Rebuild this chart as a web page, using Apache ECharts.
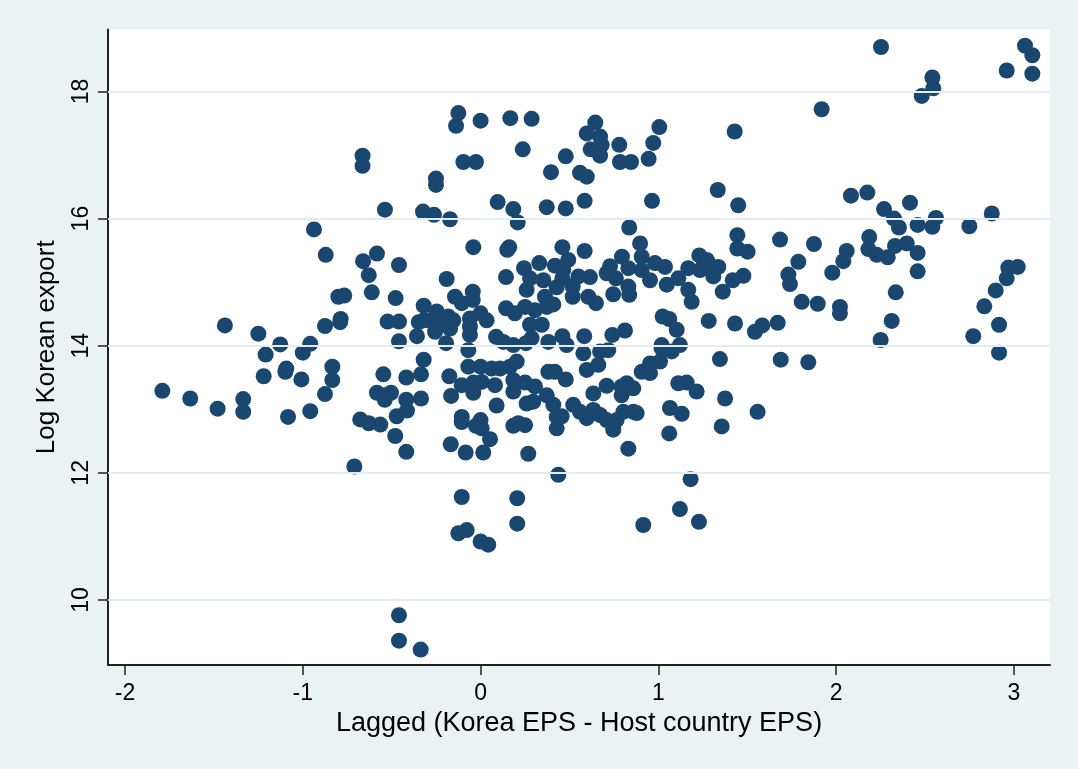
<!DOCTYPE html>
<html><head><meta charset="utf-8">
<script src="https://cdn.jsdelivr.net/npm/echarts@6/dist/echarts.min.js"></script>
<style>html,body{margin:0;padding:0;background:#EAF2F3}#c{width:1078px;height:769px}</style>
</head><body><div id="c"></div>
<script>
const xTicks = [-2, -1, 0, 1, 2, 3];
const yTicks = [10, 12, 14, 16, 18];
const xTitle = 'Lagged (Korea EPS - Host country EPS)';
const yTitle = 'Log Korean export';

const pointsLeft = [
 [-0.664,16.99],[-0.664,16.83],[-0.538,16.14],[-0.324,16.11],[-0.937,15.83],[-0.871,15.43],[-0.661,15.33],[-0.583,15.45],
 [-0.459,15.27],[-0.629,15.11],[-0.612,14.84],[-0.478,14.75],[-0.80,14.77],[-0.767,14.79],[-1.438,14.32],[-1.25,14.19],
 [-1.127,14.02],[-0.958,14.03],[-1.0,13.89],[-0.875,14.31],[-0.79,14.37],[-0.787,14.42],[-0.523,14.38],[-0.459,14.38],
 [-0.459,14.07],[-0.358,14.15],[-0.348,14.37],[-0.32,14.40],[-0.32,14.63],[-1.79,13.29],[-1.633,13.17],[-1.479,13.01],
 [-1.335,13.16],[-1.335,12.96],[-1.209,13.86],[-1.22,13.52],[-1.098,13.59],[-1.093,13.64],[-1.008,13.47],[-0.834,13.67],
 [-0.834,13.46],[-0.875,13.24],[-1.083,12.88],[-0.958,12.97],[-0.677,12.84],[-0.629,12.78],[-0.564,12.76],[-0.71,12.10],
 [-0.547,13.55],[-0.583,13.26],[-0.539,13.22],[-0.504,13.26],[-0.539,13.15],[-0.418,13.50],[-0.418,13.15],[-0.414,12.98],
 [-0.472,12.89],[-0.48,12.58],[-0.418,12.33],[-0.32,13.78],[-0.335,13.55],[-0.335,13.17],[-0.459,9.76],[-0.459,9.36],
 [-0.337,9.22]
];

const pointsCenterTop = [
 [-0.125,17.66],[-0.138,17.46],[0.0,17.54],[0.167,17.58],[0.287,17.57],[0.237,17.09],[-0.097,16.89],[-0.026,16.89],
 [-0.251,16.63],[-0.251,16.53],[-0.262,16.06],[-0.172,15.99],[0.096,16.26],[0.184,16.15],[0.209,15.94],[0.372,16.18],
 [0.479,16.16],[0.585,16.28],[0.396,16.73],[0.479,16.98],[0.559,16.72],[0.597,16.66],[0.645,17.51],[0.597,17.34],
 [0.672,17.29],[0.681,17.16],[0.619,17.09],[0.672,16.99],[0.78,17.16],[0.784,16.89],[0.846,16.89],[0.945,16.94],
 [0.971,17.19],[1.005,17.44],[1.429,17.37],[1.334,16.45],[0.964,16.28],[1.449,16.21],[0.836,15.86],[-0.041,15.55],
 [0.15,15.51],[0.161,15.55],[0.46,15.55],[0.585,15.49],[0.897,15.61],[0.906,15.40],[0.795,15.40],[1.23,15.42],
 [1.272,15.35],[1.444,15.74],[1.444,15.53],[-0.191,15.05]
];

const pointsCenterBand = [
 [0.143,15.08],[0.244,15.22],[0.33,15.30],[0.278,15.06],[0.353,15.03],[0.259,14.88],[0.418,15.26],[0.465,15.19],
 [0.493,15.35],[0.46,15.06],[0.428,14.92],[0.518,14.77],[0.55,15.09],[0.615,15.08],[0.518,14.93],[0.606,14.77],
 [0.649,14.67],[0.728,15.25],[0.709,15.14],[0.761,15.06],[0.746,14.81],[0.831,15.22],[0.831,14.93],[0.836,14.80],
 [0.906,15.19],[0.953,15.03],[0.981,15.30],[1.037,15.24],[1.047,14.96],[1.112,15.06],[1.168,15.22],[1.168,14.88],
 [1.187,14.69],[1.234,15.19],[1.281,15.30],[1.337,15.24],[1.309,15.09],[1.362,14.85],[1.418,15.03],[1.283,14.39],
 [1.431,14.35],[1.024,14.46],[1.061,14.42],[1.103,14.25],[1.121,14.01],[1.018,14.01],[0.812,14.24],[0.741,14.17],
 [0.583,14.15],[0.46,14.15],[0.484,14.01],[0.381,14.06],[0.287,14.12],[0.255,14.04],[0.344,14.33],[0.278,14.33],
 [0.143,14.59],[0.193,14.51],[0.25,14.61],[0.306,14.56],[0.372,14.61],[0.409,14.65],[0.362,14.77],[0.087,14.14],
 [0.128,14.06],[0.184,14.01],[-0.069,13.93],[-0.044,14.85],[-0.044,14.72],[-0.144,14.77],[-0.106,14.67],[0.0,14.51],
 [0.034,14.40],[-0.06,14.43],[-0.06,14.30],[-0.06,14.17],[-0.247,14.54],[-0.182,14.46],[-0.153,14.40],[-0.232,14.35],
 [-0.256,14.22],[-0.172,14.27],[-0.194,14.04],[-0.285,14.40]
];

const pointsCenterLow = [
 [-0.176,13.52],[-0.166,13.21],[-0.069,13.67],[0.0,13.67],[0.062,13.64],[0.109,13.64],[0.165,13.67],[0.203,13.75],
 [0.184,13.46],[0.184,13.28],[-0.106,13.38],[-0.041,13.42],[0.006,13.43],[-0.041,13.26],[0.081,13.38],[-0.106,12.88],
 [-0.106,12.80],[0.0,12.83],[-0.026,12.74],[0.006,12.70],[0.09,13.06],[0.053,12.53],[-0.168,12.45],[-0.084,12.32],
 [0.015,12.32],[0.268,12.30],[0.184,12.74],[0.212,12.78],[0.25,12.75],[0.25,13.42],[0.306,13.36],[0.372,13.22],
 [0.259,13.09],[0.296,13.12],[0.381,13.59],[0.418,13.59],[0.479,13.47],[0.409,13.07],[0.428,12.88],[0.428,12.70],
 [0.456,12.89],[0.521,13.07],[0.559,12.96],[0.597,12.86],[0.634,12.99],[0.634,13.25],[0.672,12.91],[0.709,12.83],
 [0.746,12.68],[0.765,12.83],[0.803,12.96],[0.859,12.96],[0.878,12.94],[0.597,13.62],[0.662,13.70],[0.672,13.91],
 [0.718,13.93],[0.578,13.88],[0.709,13.37],[0.793,13.36],[0.822,13.41],[0.859,13.33],[0.793,13.22],[0.831,12.38],
 [0.906,13.59],[0.953,13.57],[0.953,13.72],[1.009,13.75],[1.018,13.96],[1.075,13.91],[1.112,13.41],[1.159,13.42],
 [1.215,13.28],[1.065,13.02],[1.131,12.93],[1.061,12.62],[1.346,13.79],[1.375,13.17],[1.356,12.73],[0.437,11.97],
 [-0.106,11.62],[0.206,11.60],[0.206,11.20],[-0.125,11.05],[-0.078,11.10],[0.0,10.92],[0.043,10.87],[0.915,11.18],
 [1.121,11.43],[1.228,11.23],[1.181,11.90]
];

const pointsRight = [
 [2.252,18.70],[3.062,18.72],[3.103,18.57],[2.959,18.33],[3.103,18.28],[2.541,18.22],[2.546,18.05],[2.481,17.93],
 [1.918,17.72],[2.083,16.36],[2.175,16.41],[2.269,16.15],[2.325,16.00],[2.353,15.86],[2.415,16.25],[2.458,15.90],
 [2.561,16.01],[2.541,15.87],[2.749,15.88],[2.875,16.08],[1.684,15.67],[1.875,15.60],[1.502,15.48],[1.787,15.32],
 [1.731,15.12],[1.74,14.97],[1.478,15.10],[2.059,15.49],[2.04,15.33],[1.978,15.15],[2.186,15.71],[2.181,15.52],
 [2.228,15.43],[2.29,15.39],[2.331,15.57],[2.397,15.61],[2.458,15.46],[2.458,15.17],[2.335,14.84],[2.312,14.39],
 [2.25,14.09],[1.806,14.69],[1.896,14.66],[2.021,14.61],[2.021,14.51],[1.543,14.22],[1.584,14.32],[1.671,14.36],
 [2.968,15.23],[3.021,15.24],[2.959,15.06],[2.897,14.87],[2.833,14.62],[2.771,14.15],[2.916,14.33],[2.916,13.89],
 [1.688,13.78],[1.843,13.74],[1.558,12.96]
];

const allPoints = [].concat(pointsLeft, pointsCenterTop, pointsCenterBand, pointsCenterLow, pointsRight);

const FONT = "'Liberation Sans', Arial, sans-serif";
const chart = echarts.init(document.getElementById('c'), null, {renderer: 'canvas'});
chart.setOption({
  animation: false,
  backgroundColor: '#EAF2F3',
  grid: {left: 108, top: 29.5, width: 942, height: 635.5, show: true, backgroundColor: '#ffffff', borderWidth: 0},
  xAxis: {
    type: 'value', min: -2.0956, max: 3.2025,
    axisLine: {show: true, onZero: false, lineStyle: {color: '#222', width: 2}},
    axisTick: {show: true, customValues: xTicks, length: 10, lineStyle: {color: '#222', width: 1.5}},
    axisLabel: {customValues: xTicks, fontSize: 23, color: '#000', margin: 17, fontFamily: FONT},
    splitLine: {show: false},
    name: xTitle, nameLocation: 'middle', nameGap: 43,
    nameTextStyle: {fontSize: 27, color: '#000', fontFamily: FONT}
  },
  yAxis: {
    type: 'value', min: 8.977, max: 18.975,
    axisLine: {show: true, onZero: false, lineStyle: {color: '#222', width: 2}},
    axisTick: {show: true, customValues: yTicks, length: 10, lineStyle: {color: '#222', width: 1.5}},
    axisLabel: {customValues: yTicks, fontSize: 23, color: '#000', margin: 15, rotate: 90, fontFamily: FONT},
    splitLine: {show: false},
    name: yTitle, nameLocation: 'middle', nameGap: 48,
    nameTextStyle: {fontSize: 26, color: '#000', fontFamily: FONT}
  },
  series: [
    {
      type: 'line', data: [], z: 1, silent: true,
      markLine: {
        silent: true, symbol: 'none', label: {show: false},
        lineStyle: {color: '#E3ECF0', width: 2, type: 'solid'},
        data: yTicks.map(v => ({yAxis: v}))
      }
    },
    {
      type: 'scatter', z: 3, data: allPoints, symbol: 'circle', symbolSize: 16,
      itemStyle: {color: '#1a476f', opacity: 1}
    }
  ]
});
</script>
</body></html>
